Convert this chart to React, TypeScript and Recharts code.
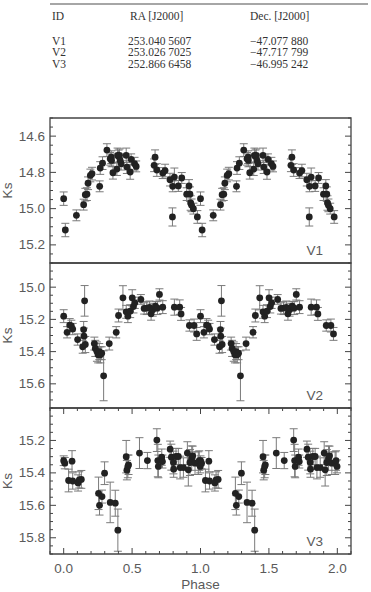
import React from 'react';
import { ScatterChart, Scatter, XAxis, YAxis, ErrorBar, ReferenceArea } from 'recharts';

// ---- Data (one pulsation cycle; plotted at phase and phase + 1) ----
const v1Phase = [0.000,0.012,0.093,0.146,0.158,0.170,0.178,0.195,0.207,0.263,0.267,0.284,0.316,0.340,0.348,0.350,0.360,0.389,0.394,0.401,0.408,0.413,0.420,0.457,0.462,0.486,0.493,0.518,0.530,0.661,0.668,0.681,0.724,0.741,0.777,0.795,0.797,0.809,0.838,0.863,0.899,0.916,0.923,0.928,0.935,0.948,0.977];
const v1Ks = [14.945,15.118,15.037,14.978,14.923,14.920,14.860,14.817,14.807,14.877,14.776,14.749,14.677,14.725,14.716,14.734,14.802,14.782,14.706,14.712,14.706,14.734,14.752,14.706,14.771,14.798,14.728,14.752,14.767,14.761,14.716,14.787,14.804,14.790,14.840,15.046,14.877,14.826,14.875,14.831,14.920,14.875,14.920,14.969,14.982,15.000,15.046];
const v1Err = [0.037,0.037,0.03,0.03,0.035,0.035,0.035,0.035,0.035,0.03,0.035,0.035,0.035,0.035,0.035,0.035,0.035,0.035,0.04,0.035,0.035,0.035,0.035,0.04,0.035,0.04,0.03,0.035,0.03,0.035,0.04,0.035,0.03,0.035,0.035,0.05,0.03,0.05,0.03,0.03,0.035,0.035,0.04,0.04,0.035,0.03,0.035];

const v2Phase = [0.000,0.025,0.044,0.056,0.066,0.102,0.139,0.146,0.148,0.153,0.158,0.224,0.231,0.243,0.252,0.260,0.268,0.278,0.292,0.333,0.384,0.401,0.433,0.457,0.469,0.486,0.501,0.510,0.520,0.564,0.588,0.607,0.627,0.639,0.651,0.671,0.685,0.700,0.724,0.809,0.848,0.858,0.919,0.953,0.972];
const v2Ks = [15.18,15.28,15.235,15.24,15.26,15.325,15.37,15.263,15.304,15.085,15.356,15.35,15.38,15.40,15.42,15.40,15.42,15.41,15.55,15.35,15.28,15.176,15.066,15.153,15.18,15.149,15.066,15.12,15.097,15.076,15.132,15.13,15.126,15.165,15.14,15.118,15.13,15.045,15.124,15.124,15.124,15.166,15.238,15.238,15.29];
const v2Err = [0.04,0.035,0.04,0.035,0.035,0.035,0.04,0.05,0.05,0.095,0.05,0.04,0.05,0.06,0.05,0.05,0.05,0.04,0.155,0.04,0.035,0.04,0.075,0.04,0.04,0.04,0.05,0.04,0.035,0.03,0.035,0.04,0.04,0.04,0.04,0.03,0.04,0.035,0.04,0.05,0.045,0.04,0.035,0.04,0.04];

const v3Phase = [0.000,0.008,0.036,0.061,0.066,0.105,0.114,0.129,0.255,0.262,0.280,0.299,0.340,0.377,0.396,0.457,0.462,0.469,0.474,0.554,0.612,0.681,0.688,0.692,0.717,0.722,0.778,0.787,0.802,0.804,0.821,0.838,0.851,0.875,0.904,0.911,0.923,0.936,0.943,0.960,0.984,0.991,0.998];
const v3Ks = [15.325,15.34,15.447,15.328,15.45,15.462,15.443,15.44,15.526,15.6,15.546,15.402,15.582,15.587,15.753,15.30,15.383,15.36,15.35,15.278,15.324,15.198,15.324,15.36,15.303,15.33,15.254,15.303,15.336,15.377,15.299,15.299,15.367,15.367,15.278,15.381,15.336,15.309,15.295,15.34,15.34,15.324,15.36];
const v3Err = [0.03,0.035,0.07,0.065,0.05,0.05,0.05,0.055,0.1,0.06,0.04,0.07,0.125,0.08,0.13,0.1,0.06,0.07,0.06,0.095,0.05,0.07,0.1,0.07,0.05,0.04,0.05,0.08,0.07,0.05,0.05,0.05,0.07,0.06,0.07,0.1,0.08,0.075,0.06,0.07,0.07,0.06,0.04];

// ---- Axes ----
const xDomain = [-0.1, 2.1];
const phaseMajor = [0, 0.5, 1, 1.5, 2];
const v1Domain = [14.5, 15.3];
const v1Major = [14.6, 14.8, 15.0, 15.2];
const v2Domain = [14.85, 15.75];
const v2Major = [15.0, 15.2, 15.4, 15.6];
const v3Domain = [15.0, 15.9];
const v3Major = [15.2, 15.4, 15.6, 15.8];

// ---- Table ----
const tableHeader = ['ID', 'RA [J2000]', 'Dec. [J2000]'];
const tableIds = ['V1', 'V2', 'V3'];
const tableRa = ['253.040 5607', '253.026 7025', '252.866 6458'];
const tableDec = ['\u221247.077 880', '\u221247.717 799', '\u221246.995 242'];

const AX = '#444';
const TXT = '#5a5a5a';
const FONT = '"Liberation Sans", Arial, sans-serif';
const PW = 301;

function buildRows(phase: number[], ks: number[], err: number[]) {
  const rows: { x: number; y: number; err: number }[] = [];
  for (let c = 0; c < 2; c++) {
    for (let i = 0; i < phase.length; i++) rows.push({ x: phase[i] + c, y: ks[i], err: err[i] });
  }
  return rows;
}

function stepTicks(lo: number, hi: number, step: number) {
  const out: number[] = [];
  const n = Math.round((hi - lo) / step);
  for (let i = 0; i <= n; i++) out.push(+(lo + i * step).toFixed(4));
  return out;
}

const isMajor = (v: number, arr: number[]) => arr.some((m) => Math.abs(m - v) < 1e-6);

const Dot = (p: any) => <circle cx={p.cx} cy={p.cy} r={3.4} fill="#222" />;

function Panel(props: {
  top: number; plotH: number; showX: boolean; rows: any[];
  yDomain: number[]; yMajor: number[];
}) {
  const { top, plotH, showX, rows, yDomain, yMajor } = props;
  const xh = showX ? 38 : 0;
  const mb = showX ? 0 : 2;
  const height = plotH + 10 + xh + mb;
  const xTicks = stepTicks(xDomain[0], xDomain[1], 0.1);
  const yTicks = stepTicks(yDomain[0], yDomain[1], 0.05);

  const XTick = (p: any) => {
    const { x, y, payload } = p;
    const v = payload.value;
    const maj = isMajor(v, phaseMajor);
    const len = maj ? 6 : 3;
    return (
      <g>
        <line x1={x} x2={x} y1={y} y2={y - len} stroke={AX} strokeWidth={1} />
        <line x1={x} x2={x} y1={y - plotH} y2={y - plotH + len} stroke={AX} strokeWidth={1} />
        {showX && maj ? (
          <text x={x} y={y + 14} textAnchor="middle" dominantBaseline="central" fill={TXT} fontSize={13.5} fontFamily={FONT}>
            {v.toFixed(1)}
          </text>
        ) : null}
      </g>
    );
  };

  const YTick = (p: any) => {
    const { x, y, payload } = p;
    const v = payload.value;
    const maj = isMajor(v, yMajor);
    const len = maj ? 6 : 3;
    return (
      <g>
        <line x1={x} x2={x + len} y1={y} y2={y} stroke={AX} strokeWidth={1} />
        <line x1={x + PW - len} x2={x + PW} y1={y} y2={y} stroke={AX} strokeWidth={1} />
        {maj ? (
          <text x={x - 5} y={y} textAnchor="end" dominantBaseline="central" fill={TXT} fontSize={13.5} fontFamily={FONT}>
            {v.toFixed(1)}
          </text>
        ) : null}
      </g>
    );
  };

  return (
    <div style={{ position: 'absolute', left: 0, top: top - 10 }}>
      <ScatterChart width={371} height={height} margin={{ top: 10, right: 20, bottom: mb, left: 10 }}>
        <XAxis
          type="number" dataKey="x" domain={xDomain} ticks={xTicks} interval={0}
          allowDataOverflow height={xh} tick={XTick} tickLine={false} tickSize={0} tickMargin={0}
          axisLine={false}
          label={showX ? { value: 'Phase', position: 'insideBottom', offset: 3, fill: TXT, fontSize: 13.5, fontFamily: FONT } : undefined}
        />
        <YAxis
          type="number" dataKey="y" domain={yDomain} reversed ticks={yTicks} interval={0}
          allowDataOverflow width={40} tick={YTick} tickLine={false} tickSize={0} tickMargin={0}
          axisLine={false}
        />
        <ReferenceArea x1={xDomain[0]} x2={xDomain[1]} y1={yDomain[0]} y2={yDomain[1]} fill="none" fillOpacity={0} stroke={AX} strokeWidth={1.3} ifOverflow="visible" />
        <Scatter data={rows} isAnimationActive={false} shape={Dot}>
          <ErrorBar dataKey="err" direction="y" width={4} stroke="#7a7a7a" strokeWidth={1} />
        </Scatter>
      </ScatterChart>
    </div>
  );
}

export default function App() {
  const rows1 = buildRows(v1Phase, v1Ks, v1Err);
  const rows2 = buildRows(v2Phase, v2Ks, v2Err);
  const rows3 = buildRows(v3Phase, v3Ks, v3Err);
  const serif = '"Liberation Serif", "Times New Roman", serif';
  const rowY = [44.5, 56, 68];
  const panels = [
    { top: 118, plotH: 145, label: 'V1' },
    { top: 263, plotH: 145, label: 'V2' },
    { top: 408, plotH: 146, label: 'V3' },
  ];
  return (
    <div style={{ position: 'absolute', left: 0, top: 0, width: 371, height: 592, background: '#fff', overflow: 'hidden' }}>
      <Panel top={118} plotH={145} showX={false} rows={rows1} yDomain={v1Domain} yMajor={v1Major} />
      <Panel top={263} plotH={145} showX={false} rows={rows2} yDomain={v2Domain} yMajor={v2Major} />
      <Panel top={408} plotH={146} showX={true} rows={rows3} yDomain={v3Domain} yMajor={v3Major} />
      <svg width={371} height={592} style={{ position: 'absolute', left: 0, top: 0, pointerEvents: 'none' }}>
        <line x1={50} x2={368} y1={4} y2={4} stroke="#888" strokeWidth={1.6} />
        <text x={52} y={20} fontFamily={serif} fontSize={11.5} fill="#333">{tableHeader[0]}</text>
        <text x={130} y={20} fontFamily={serif} fontSize={11.5} fill="#333">{tableHeader[1]}</text>
        <text x={250} y={20} fontFamily={serif} fontSize={11.5} fill="#333">{tableHeader[2]}</text>
        {tableIds.map((id, i) => (
          <g key={id}>
            <text x={52} y={rowY[i]} fontFamily={serif} fontSize={11.5} fill="#333">{id}</text>
            <text x={128} y={rowY[i]} fontFamily={serif} fontSize={11.5} fill="#333">{tableRa[i]}</text>
            <text x={250} y={rowY[i]} fontFamily={serif} fontSize={11.5} fill="#333">{tableDec[i]}</text>
          </g>
        ))}
        {panels.map((p) => (
          <g key={p.label}>
            <text x={7} y={p.top + p.plotH / 2} transform={`rotate(-90 7 ${p.top + p.plotH / 2})`} textAnchor="middle" dominantBaseline="central" fontFamily={FONT} fontSize={13.5} fill={TXT}>Ks</text>
            <text x={323} y={p.top + p.plotH - 8} textAnchor="end" fontFamily={FONT} fontSize={13.5} fill={TXT}>{p.label}</text>
          </g>
        ))}
      </svg>
    </div>
  );
}
